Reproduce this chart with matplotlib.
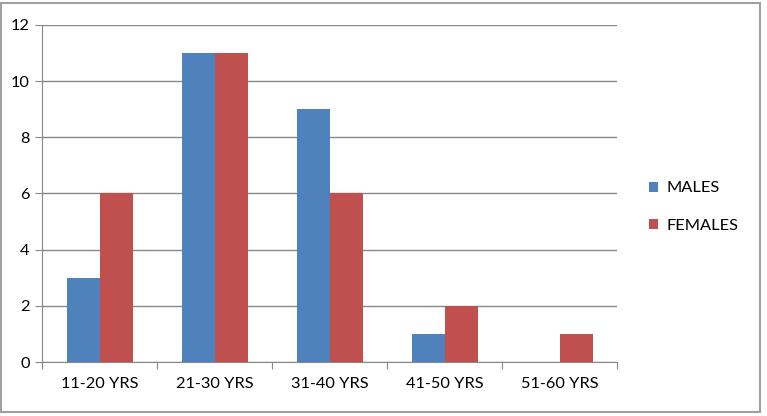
import numpy as np
import matplotlib.pyplot as plt
from matplotlib.patches import Rectangle

categories = ["11-20 YRS", "21-30 YRS", "31-40 YRS", "41-50 YRS", "51-60 YRS"]
males = [3, 11, 9, 1, 0]
females = [6, 11, 6, 2, 1]

plt.rcParams['font.family'] = ['Lato', 'DejaVu Sans']
fig = plt.figure(figsize=(7.67, 4.16), dpi=100)
ax = fig.add_axes([0.0548, 0.1298, 0.75, 0.8102])

x = np.arange(len(categories))
w = 0.287
ax.bar(x - w/2, males, w, color='#4F81BD', label='MALES', zorder=3)
ax.bar(x + w/2, females, w, color='#C0504D', label='FEMALES', zorder=3)

gray = '#888888'
ax.set_xlim(-0.5, 4.5)
ax.set_ylim(0, 12)
ax.set_yticks(range(0, 13, 2))
ax.grid(axis='y', color=gray, linewidth=1, zorder=0)
ax.set_xticks(np.arange(-0.5, 5, 1))
ax.set_xticks(x, minor=True)
ax.set_xticklabels([])
ax.set_xticklabels(categories, minor=True)
ax.tick_params(axis='x', which='major', length=5, color=gray, direction='out')
ax.tick_params(axis='x', which='minor', length=0, pad=11, labelsize=11.8)
ax.tick_params(axis='y', length=5, color=gray, labelsize=11.8, pad=4)
for s in ['top', 'right']:
    ax.spines[s].set_visible(False)
for s in ['left', 'bottom']:
    ax.spines[s].set_color(gray)

ax.legend(loc='center left', bbox_to_anchor=(1.03, 0.459), frameon=False,
          fontsize=11.8, handlelength=0.55, handleheight=0.55, labelspacing=1.45,
          handletextpad=0.5)

fig.patches.append(Rectangle((0.001, 0.01), 0.99, 0.983, transform=fig.transFigure,
                             fill=False, edgecolor='#A0A0A0', linewidth=1.5))
fig.savefig('out.png', dpi=100)
